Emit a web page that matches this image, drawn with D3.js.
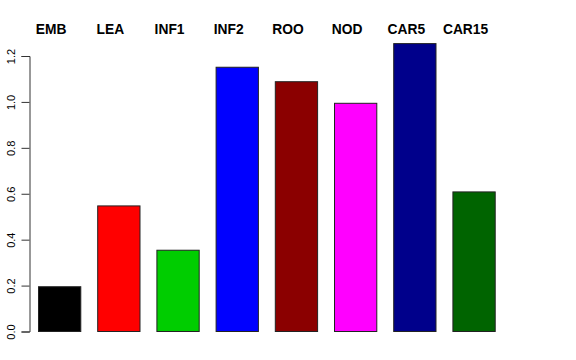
<!DOCTYPE html>
<html lang="en">
<head>
<meta charset="UTF-8">
<title>Barplot</title>
<script src="https://cdn.jsdelivr.net/npm/d3@7"></script>
<style>
  body { margin: 0; background: #fff; }
  svg { display: block; }
</style>
</head>
<body>
<svg id="mainsvg" width="576" height="360"></svg>
<script>
// data
const categories = ['EMB', 'LEA', 'INF1', 'INF2', 'ROO', 'NOD', 'CAR5', 'CAR15'];
const values = [0.195, 0.547, 0.354, 1.151, 1.088, 0.994, 1.254, 0.608];
const colors = ['#000000', '#ff0000', '#00cd00', '#0000ff', '#8b0000', '#ff00ff', '#00008b', '#006400'];
const yTicks = [0.0, 0.2, 0.4, 0.6, 0.8, 1.0, 1.2];

const svg = d3.select('#mainsvg');

const xScale = d3.scaleBand()
    .domain(categories)
    .range([38, 494.7])
    .paddingInner(2 / 7)
    .paddingOuter(0);

const yScale = d3.scaleLinear()
    .domain([0, 1.2])
    .range([331, 55.5]);

// bars
svg.append('g').selectAll('rect')
    .data(categories)
    .join('rect')
    .attr('x', d => xScale(d) + 0.5)
    .attr('y', (d, i) => yScale(values[i]) + 0.5)
    .attr('width', xScale.bandwidth())
    .attr('height', (d, i) => yScale(0) - yScale(values[i]))
    .attr('fill', (d, i) => colors[i])
    .attr('stroke', '#222')
    .attr('stroke-width', 1);

// y axis
const yAxis = svg.append('g')
    .attr('transform', 'translate(29.5,0.5)')
    .call(d3.axisLeft(yScale).tickValues(yTicks).tickFormat(d3.format('.1f')).tickSizeOuter(0).tickSize(8));
yAxis.select('.domain').attr('stroke', '#333');
yAxis.selectAll('.tick line').attr('stroke', '#333');
yAxis.selectAll('.tick text')
    .attr('font-family', 'Liberation Sans, Arial, sans-serif')
    .attr('font-size', 11)
    .attr('fill', '#000')
    .attr('transform', 'rotate(-90)')
    .attr('text-anchor', 'middle')
    .attr('x', 0)
    .attr('y', -15)
    .attr('dy', 0);

// top labels
svg.append('g').selectAll('text')
    .data(categories)
    .join('text')
    .attr('x', d => xScale(d) + xScale.bandwidth() / 2 - 8)
    .attr('y', 34)
    .attr('text-anchor', 'middle')
    .attr('font-family', 'Liberation Sans, Arial, sans-serif')
    .attr('font-weight', 'bold')
    .attr('font-size', 13.8)
    .text(d => d);
</script>
</body>
</html>
